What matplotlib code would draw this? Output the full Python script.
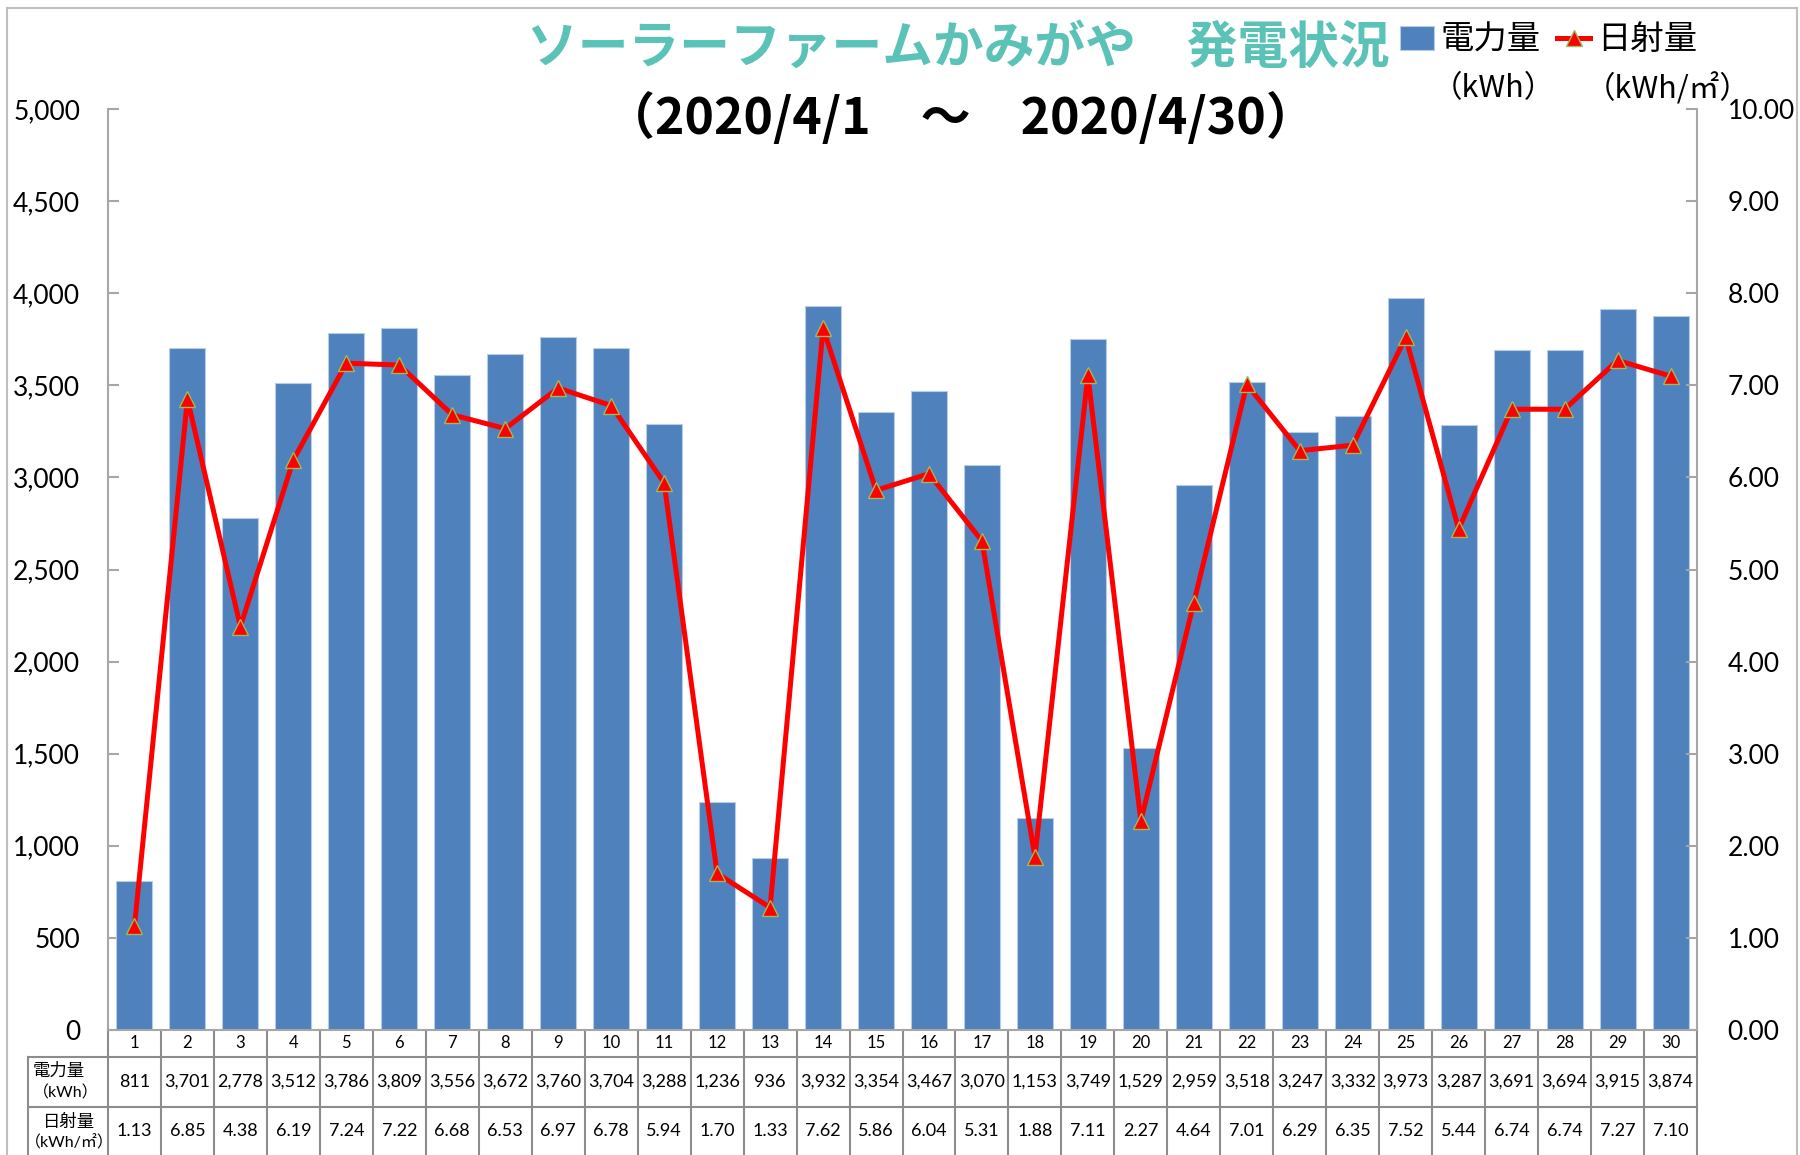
import matplotlib
matplotlib.use("Agg")
import matplotlib.pyplot as plt
import matplotlib.transforms as mtransforms
from matplotlib.lines import Line2D
from matplotlib.ticker import FuncFormatter, MultipleLocator

plt.rcParams['font.family'] = ['Lato', 'Noto Sans CJK JP', 'DejaVu Sans']

# 日別データ (2020/4)
days = list(range(1, 31))
power = [811, 3701, 2778, 3512, 3786, 3809, 3556, 3672, 3760, 3704, 3288, 1236, 936, 3932, 3354,
         3467, 3070, 1153, 3749, 1529, 2959, 3518, 3247, 3332, 3973, 3287, 3691, 3694, 3915, 3874]
solar = [1.13, 6.85, 4.38, 6.19, 7.24, 7.22, 6.68, 6.53, 6.97, 6.78, 5.94, 1.70, 1.33, 7.62, 5.86,
         6.04, 5.31, 1.88, 7.11, 2.27, 4.64, 7.01, 6.29, 6.35, 7.52, 5.44, 6.74, 6.74, 7.27, 7.10]

title = 'ソーラーファームかみがや\u3000発電状況'
subtitle = '（2020/4/1\u3000～\u30002020/4/30）'
label_power = '電力量'
label_solar = '日射量'
unit_power = '（kWh）'
unit_solar = '（kWh/㎡）'

W, H = 1800, 1155
grey = '#A6A6A6'
fig = plt.figure(figsize=(W / 100, H / 100), dpi=100)

# 枠
for xs, ys in [([7, 7], [0, H - 8]), ([7, 1797], [H - 8, H - 8]), ([1797, 1797], [0, H - 8])]:
    fig.add_artist(Line2D([x / W for x in xs], [y / H for y in ys], transform=fig.transFigure,
                          color='#BFBFBF', lw=1.5))

ax = fig.add_axes([108 / W, 125 / H, 1589 / W, 921 / H])
bars = ax.bar(days, power, width=0.68, color='#4F81BD', edgecolor='#B8CCE4', linewidth=0.8, zorder=2)
ax.set_xlim(0.5, 30.5)
ax.set_ylim(0, 5000)
ax.yaxis.set_major_locator(MultipleLocator(500))
ax.yaxis.set_major_formatter(FuncFormatter(lambda v, p: f'{int(v):,}'))
ax.tick_params(axis='y', direction='in', length=8, width=1.5, color=grey, labelsize=19, pad=20)
ax.set_xticks([])
for s in ['top', 'right']:
    ax.spines[s].set_visible(False)
for s in ['left', 'bottom']:
    ax.spines[s].set_color(grey)
    ax.spines[s].set_linewidth(1.5)

ax2 = ax.twinx()
line, = ax2.plot(days, solar, color='#FF0000', lw=3.6, marker='^', ms=11,
                 mfc='#FF0000', mec='#9BBB59', mew=1, zorder=3)
ax2.set_ylim(0, 10)
ax2.yaxis.set_major_locator(MultipleLocator(1))
ax2.yaxis.set_major_formatter(FuncFormatter(lambda v, p: f'{v:.2f}'))
ax2.tick_params(axis='y', direction='in', length=8, width=1.5, color=grey, labelsize=19, pad=22)
for s in ['top', 'left', 'bottom']:
    ax2.spines[s].set_visible(False)
ax2.spines['right'].set_color(grey)
ax2.spines['right'].set_linewidth(1.5)

# データテーブル
ah = 921.0
aw = 1589.0
tr = mtransforms.blended_transform_factory(ax.transData, ax.transAxes)
r1, r2, r3 = -27 / ah, -77 / ah, -125 / ah
hx = -80 / aw
lc = '#8C8C8C'
for i in range(31):
    ax.plot([i + 0.5, i + 0.5], [0, r3], transform=tr, color=lc, lw=1.5, clip_on=False)
for y in [r1, r2]:
    ax.plot([hx, 1], [y, y], transform=ax.transAxes, color=lc, lw=1.5, clip_on=False)
ax.plot([hx, hx], [r1, r3], transform=ax.transAxes, color=lc, lw=1.5, clip_on=False)

for d, p, s in zip(days, power, solar):
    ax.text(d, r1 / 2, str(d), transform=tr, ha='center', va='center', fontsize=12)
    ax.text(d, (r1 + r2) / 2, f'{p:,}', transform=tr, ha='center', va='center', fontsize=13)
    ax.text(d, (r2 + r3) / 2, f'{s:.2f}', transform=tr, ha='center', va='center', fontsize=13)

ax.text(-75 / aw, -41 / ah, label_power, transform=ax.transAxes, ha='left', va='center', fontsize=12.5)
ax.text(-75 / aw, -63 / ah, unit_power, transform=ax.transAxes, ha='left', va='center', fontsize=11.5)
ax.text(-39 / aw, -92 / ah, label_solar, transform=ax.transAxes, ha='center', va='center', fontsize=12.5)
ax.text(-39 / aw, -113 / ah, unit_solar, transform=ax.transAxes, ha='center', va='center', fontsize=11.5)

# タイトル
fig.text(958 / W, 1 - 48 / H, title, ha='center', va='center', fontsize=36.5, fontweight='bold',
         color='#5BC2B7', family=['Noto Sans CJK JP'])
fig.text(960 / W, 1 - 118 / H, subtitle, ha='center', va='center', fontsize=36, fontweight='bold',
         family=['Noto Sans CJK JP'])

# 凡例
fig.legend([bars, line], [label_power, label_solar], loc='center left',
           bbox_to_anchor=(1387 / W, 1 - 40 / H), ncol=2, frameon=False,
           prop={'family': 'Noto Sans CJK JP', 'size': 24},
           handlelength=1.0, handletextpad=0.2, columnspacing=0.5, borderaxespad=0)
fig.text(1432 / W, 1 - 89 / H, unit_power, ha='left', va='center', fontsize=22, family=['Noto Sans CJK JP'])
fig.text(1585 / W, 1 - 89 / H, unit_solar, ha='left', va='center', fontsize=22, family=['Noto Sans CJK JP'])

fig.savefig('out.png', dpi=100)
